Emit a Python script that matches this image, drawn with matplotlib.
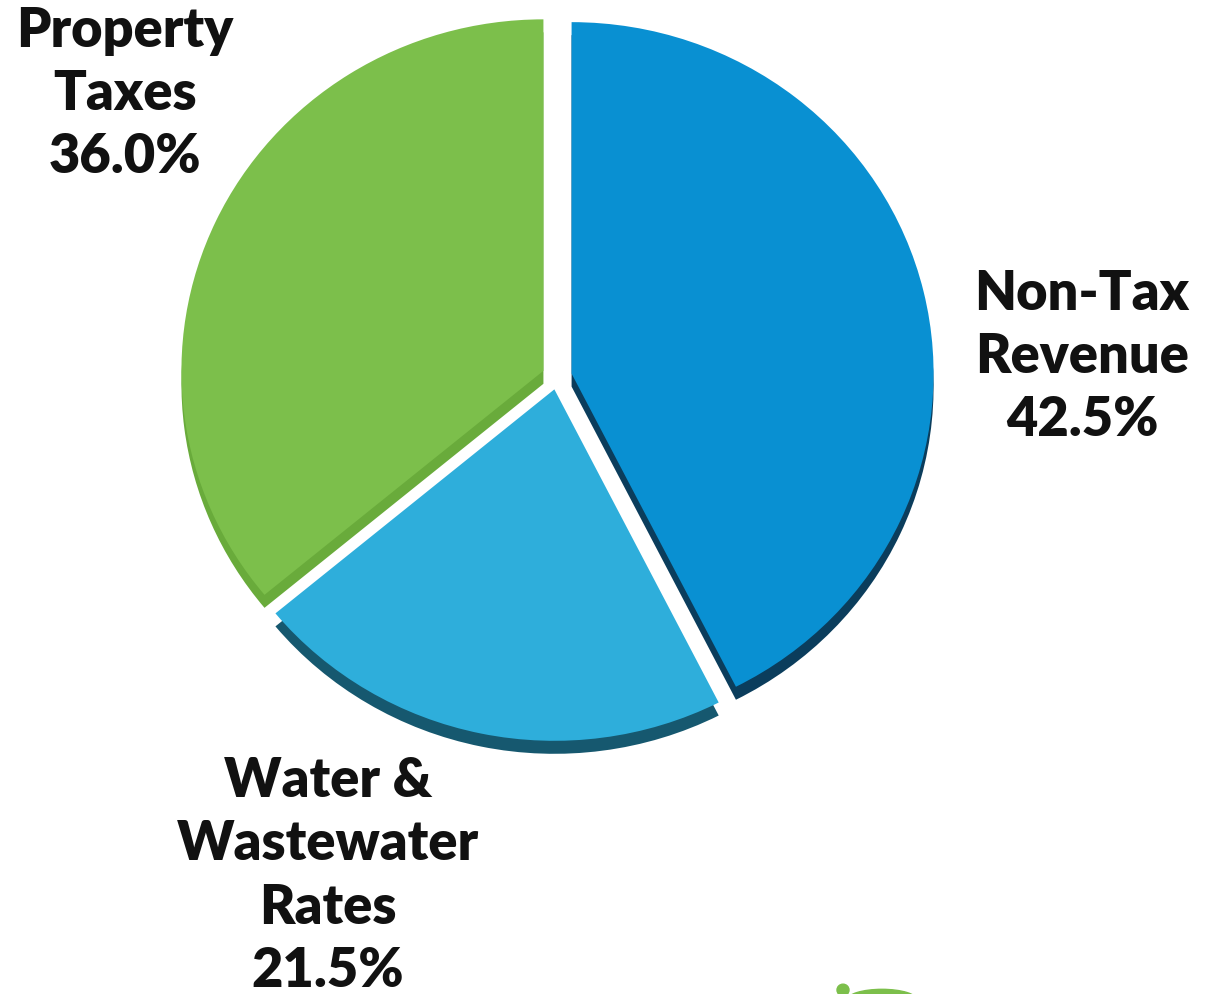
import matplotlib
matplotlib.use('Agg')
from matplotlib import pyplot as plt
from matplotlib.patches import Circle, Ellipse

# revenue sources, clockwise from 12 o'clock
labels = ['Non-Tax\nRevenue', 'Water &\nWastewater\nRates', 'Property\nTaxes']
shares = [42.5, 21.5, 36.0]
top_colors = ['#0990d2', '#2eaedb', '#7cbf4b']
side_colors = ['#0b3d5c', '#16586f', '#69ab3b']

W, H = 1223, 994
SY = 1.03  # slight vertical squash, like a tilted 3d pie
fig = plt.figure(figsize=(W / 100, H / 100), dpi=100)
ax = fig.add_axes([0, 0, 1, 1])


def py(ypix):
    # pixel row -> data y
    return (H - ypix) * SY


cx, cy, r = 557, py(377), 362
explode = [15, 13, 15]  # pie() takes these in data units

# fake 3d depth: darker copy shifted down
ax.pie(shares, startangle=90, counterclock=False, explode=explode,
       center=(cx, cy - 13 * SY), radius=r, colors=side_colors,
       wedgeprops=dict(linewidth=0, zorder=1), frame=True)
ax.pie(shares, startangle=90, counterclock=False, explode=explode,
       center=(cx, cy), radius=r, colors=top_colors,
       wedgeprops=dict(linewidth=0, zorder=2), frame=True)

ax.set_aspect('auto')
ax.set_xlim(0, W)
ax.set_ylim(0, H * SY)
ax.axis('off')

label_pos = [(1082, 357), (328, 876), (125, 94)]
for lab, val, (x, y) in zip(labels, shares, label_pos):
    ax.text(x, py(y), lab + '\n' + f'{val:.1f}%', ha='center', va='center',
            fontsize=39, fontweight='heavy', family='Lato',
            linespacing=1.32, color='#111111', zorder=5)

# bit of a logo cut off at the bottom edge
ax.add_patch(Circle((843, py(990)), 6, color='#7cbf4b', zorder=3))
ax.add_patch(Ellipse((882, py(1000)), 70, 22, color='#7cbf4b', zorder=3))

fig.savefig('out.png', dpi=100)
